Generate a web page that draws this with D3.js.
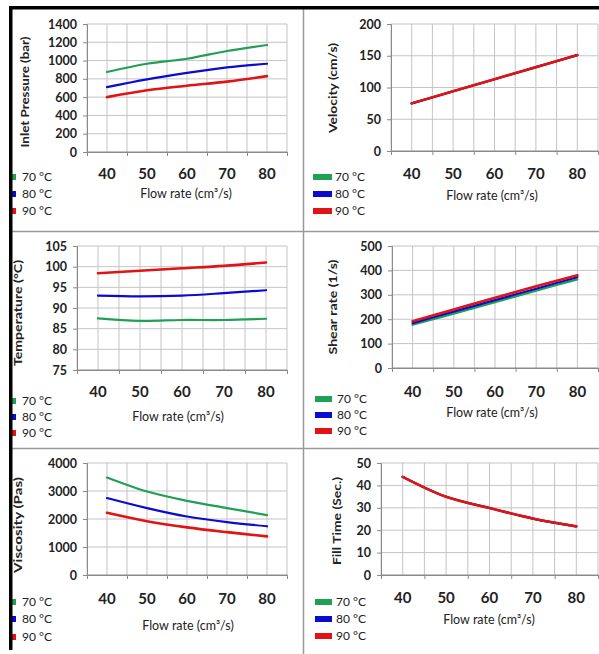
<!DOCTYPE html>
<html><head><meta charset="utf-8">
<script src="https://cdn.jsdelivr.net/npm/d3@7"></script>
<style>
html,body{margin:0;padding:0;background:#fff;}
svg{display:block;}
text{font-family:Lato,"Open Sans",sans-serif;fill:#222;}
</style></head>
<body>
<svg id="chart" width="599" height="654"></svg>
<script>
// ---------- data ----------
const flowRates = [40, 50, 60, 70, 80];
const xTickLabels = ["40", "50", "60", "70", "80"];
const seriesLabels = ["70 °C", "80 °C", "90 °C"];
const seriesColors = ["#1fa055", "#0b0bd0", "#e01414"];

const pressure70 = [875, 965, 1020, 1105, 1170];
const pressure80 = [710, 795, 865, 925, 965];
const pressure90 = [600, 675, 725, 770, 830];
const pressureTicks = [0, 200, 400, 600, 800, 1000, 1200, 1400];

const velocity70 = [75, 94, 113, 132, 151];
const velocity80 = [75, 94, 113, 132, 151];
const velocity90 = [75, 94, 113, 132, 151];
const velocityTicks = [0, 50, 100, 150, 200];

const temperature70 = [87.5, 86.9, 87.1, 87.1, 87.4];
const temperature80 = [93.0, 92.8, 93.0, 93.6, 94.3];
const temperature90 = [98.4, 99.0, 99.6, 100.2, 101.0];
const temperatureTicks = [75, 80, 85, 90, 95, 100, 105];

const shear70 = [177, 223, 270, 317, 363];
const shear80 = [184, 231, 278, 325, 372];
const shear90 = [192, 240, 288, 335, 380];
const shearTicks = [0, 100, 200, 300, 400, 500];

const viscosity70 = [3480, 2980, 2650, 2390, 2140];
const viscosity80 = [2750, 2390, 2090, 1890, 1740];
const viscosity90 = [2220, 1920, 1700, 1530, 1380];
const viscosityTicks = [0, 1000, 2000, 3000, 4000];

const fillTime70 = [43.8, 34.9, 29.9, 25.2, 21.7];
const fillTime80 = [43.8, 34.9, 29.9, 25.2, 21.7];
const fillTime90 = [43.8, 34.9, 29.9, 25.2, 21.7];
const fillTimeTicks = [0, 10, 20, 30, 40, 50];

const xTitle = "Flow rate (cm³/s)";

// ---------- panels ----------
const panels = [
  {title: "Inlet Pressure  (bar)", series: [pressure70, pressure80, pressure90], ticks: pressureTicks,
   L: {x0: 87, x1: 287, yT: 24, yB: 152, ytx: 25, ytc: 92, ytl: 111, xtl: 174, xtc: 186, xty: 193, legX: 22, legSw: [12, 16], legY: [177, 194, 211]}},
  {title: "Velocity (cm/s)", series: [velocity70, velocity80, velocity90], ticks: velocityTicks,
   L: {x0: 391, x1: 598, yT: 24, yB: 151, ytx: 333, ytc: 88, ytl: 90, xtl: 174, xtc: 492, xty: 195, legX: 335, legSw: [313, 332], legY: [177, 194, 211]}},
  {title: "Temperature  (°C)", series: [temperature70, temperature80, temperature90], ticks: temperatureTicks,
   L: {x0: 77, x1: 287, yT: 246, yB: 370, ytx: 18, ytc: 313, ytl: 106, xtl: 392, xtc: 178, xty: 416, legX: 22, legSw: [12, 16], legY: [401, 417, 433]}},
  {title: "Shear rate (1/s)", series: [shear70, shear80, shear90], ticks: shearTicks,
   L: {x0: 392, x1: 598, yT: 246, yB: 368, ytx: 333, ytc: 307, ytl: 95, xtl: 392, xtc: 492, xty: 412, legX: 337, legSw: [315, 332], legY: [399, 415, 431]}},
  {title: "Viscosity (Pas)", series: [viscosity70, viscosity80, viscosity90], ticks: viscosityTicks,
   L: {x0: 87, x1: 287, yT: 463, yB: 575, ytx: 18, ytc: 525, ytl: 96, xtl: 599, xtc: 188, xty: 625, legX: 22, legSw: [12, 16], legY: [602, 619, 637]}},
  {title: "Fill Time (Sec.)", series: [fillTime70, fillTime80, fillTime90], ticks: fillTimeTicks,
   L: {x0: 381, x1: 598, yT: 463, yB: 575, ytx: 337, ytc: 521, ytl: 88, xtl: 598, xtc: 489, xty: 619, legX: 336, legSw: [315, 332], legY: [602, 619, 636]}}
];

const svg = d3.select("#chart");

panels.forEach(p => {
  const L = p.L;
  const x = d3.scaleLinear().domain([35, 85]).range([L.x0, L.x1]);
  const y = d3.scaleLinear().domain(d3.extent(p.ticks)).range([L.yB, L.yT]);
  const g = svg.append("g");

  // vertical gridlines every 5 units
  const vGrid = d3.range(35, 86, 5);
  g.selectAll(".vg").data(vGrid).enter().append("line")
    .attr("x1", d => x(d)).attr("x2", d => x(d))
    .attr("y1", L.yT).attr("y2", L.yB)
    .attr("stroke", "#c4c4c4").attr("stroke-width", 1);
  // horizontal gridlines
  g.selectAll(".hg").data(p.ticks).enter().append("line")
    .attr("x1", L.x0).attr("x2", L.x1)
    .attr("y1", d => y(d)).attr("y2", d => y(d))
    .attr("stroke", d => d === p.ticks[0] ? "#8a8a8a" : "#c4c4c4").attr("stroke-width", 1);

  // y axis
  const ya = d3.axisLeft(y).tickValues(p.ticks).tickSize(4).tickPadding(6).tickFormat(d3.format("d"));
  const yg = g.append("g").attr("transform", `translate(${L.x0},0)`).call(ya);
  yg.select(".domain").attr("stroke", "#8a8a8a");
  yg.selectAll(".tick line").attr("stroke", "#8a8a8a");
  yg.selectAll(".tick text").attr("font-family", "Lato").attr("font-weight", "bold")
    .attr("font-size", 12.5).attr("fill", "#222");

  // x axis: tick marks between categories
  const xa = d3.axisBottom(x).tickValues(d3.range(35, 86, 10)).tickSize(4).tickFormat("");
  const xg = g.append("g").attr("transform", `translate(0,${L.yB})`).call(xa);
  xg.select(".domain").attr("stroke", "#8a8a8a");
  xg.selectAll(".tick line").attr("stroke", "#8a8a8a");

  // x tick labels
  g.selectAll(".xl").data(flowRates).enter().append("text")
    .attr("x", d => x(d)).attr("y", L.xtl).attr("dy", "0.36em")
    .attr("text-anchor", "middle").attr("font-weight", "bold").attr("font-size", 15)
    .text((d, i) => xTickLabels[i]);

  // x title
  g.append("text").attr("x", L.xtc).attr("y", L.xty).attr("dy", "0.36em")
    .attr("text-anchor", "middle").attr("font-size", 12.5).text(xTitle);

  // y title
  g.append("text")
    .attr("transform", `translate(${L.ytx},${L.ytc}) rotate(-90)`)
    .attr("text-anchor", "middle").attr("dy", "0.36em")
    .attr("font-weight", "bold").attr("font-size", 11.5)
    .attr("textLength", L.ytl).attr("lengthAdjust", "spacingAndGlyphs")
    .text(p.title);

  // lines
  const line = d3.line().x((d, i) => x(flowRates[i])).y(d => y(d)).curve(d3.curveCatmullRom.alpha(0.5));
  p.series.forEach((s, si) => {
    g.append("path").datum(s).attr("d", line)
      .attr("fill", "none").attr("stroke", seriesColors[si])
      .attr("stroke-width", si === 2 ? 2.6 : 2.2)
      .attr("stroke-linejoin", "round").attr("stroke-linecap", "round");
  });

  // legend
  seriesLabels.forEach((lab, i) => {
    g.append("rect").attr("x", L.legSw[0]).attr("y", L.legY[i] - 3)
      .attr("width", L.legSw[1] - L.legSw[0]).attr("height", 6)
      .attr("fill", seriesColors[i]);
    g.append("text").attr("x", L.legX).attr("y", L.legY[i]).attr("dy", "0.36em")
      .attr("font-size", 12).text(lab);
  });
});

// frame and dividers
svg.append("line").attr("x1", 303.5).attr("x2", 303.5).attr("y1", 9).attr("y2", 654)
  .attr("stroke", "#9a9a9a").attr("stroke-width", 1.5);
[231.5, 448.5].forEach(yy => {
  svg.append("line").attr("x1", 12).attr("x2", 599).attr("y1", yy).attr("y2", yy)
    .attr("stroke", "#9a9a9a").attr("stroke-width", 1.5);
});
svg.append("rect").attr("x", 9).attr("y", 6).attr("width", 590).attr("height", 3.5).attr("fill", "#000");
svg.append("rect").attr("x", 9).attr("y", 6).attr("width", 3.5).attr("height", 644).attr("fill", "#000");
</script>
</body></html>
